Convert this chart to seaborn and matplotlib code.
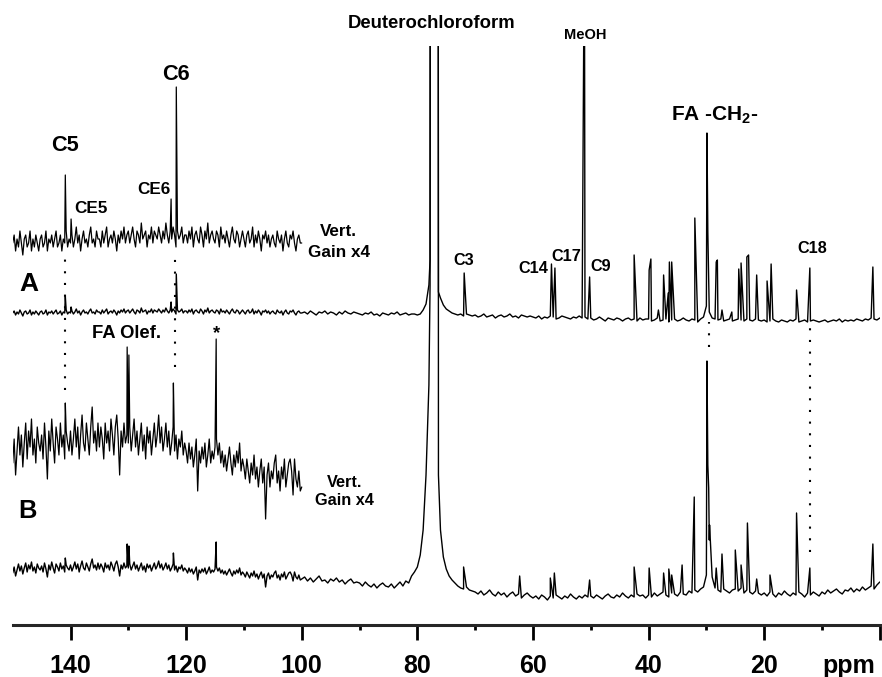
import numpy as np
import pandas as pd
import matplotlib
matplotlib.use("Agg")
import matplotlib.pyplot as plt
import seaborn as sns

# 13C spectra (values in plot pixels): 0.25 ppm steps for 150-100.25 ppm, 0.5 ppm steps for 100-0 ppm
ppm = np.concatenate([np.linspace(150, 100.25, 200), np.linspace(100, 0, 201)])

spec_a = [
    # 150 - 100.25 ppm
    7, 9, 5, 8, 6, 10, 7, 4, 8, 9, 6, 7, 10, 5, 8, 6, 9, 7, 5, 8,
    9, 6, 7, 10, 5, 8, 7, 9, 6, 8, 10, 6, 7, 9, 5, 8, 7, 10, 6, 8,
    7, 9, 6, 8, 11, 7, 9, 5, 8, 10, 7, 8, 6, 9, 11, 7, 8, 6, 10, 8,
    8, 6, 10, 7, 9, 11, 6, 8, 9, 7, 10, 8, 5, 9, 7, 10, 8, 11, 7, 9,
    10, 7, 9, 11, 8, 6, 10, 9, 7, 12, 8, 9, 10, 6, 9, 8, 11, 7, 10, 9,
    8, 11, 9, 7, 10, 8, 12, 9, 7, 10, 8, 11, 9, 6, 10, 8, 9, 11, 7, 9,
    9, 7, 10, 8, 11, 6, 9, 10, 8, 7, 11, 9, 6, 10, 8, 12, 7, 9, 10, 8,
    7, 10, 9, 6, 11, 8, 9, 7, 10, 8, 6, 9, 11, 8, 7, 10, 9, 6, 8, 10,
    8, 6, 9, 10, 7, 8, 11, 6, 9, 7, 10, 8, 5, 9, 8, 10, 7, 9, 6, 8,
    9, 7, 6, 10, 8, 7, 9, 5, 8, 10, 7, 6, 9, 8, 10, 7, 5, 8, 9, 7,
    # 100 - 0 ppm
    7, 8, 6, 9, 7, 5, 8, 7, 9, 6, 8, 7, 5, 8, 6, 9, 7, 6, 8, 7,
    6, 5, 7, 6, 8, 5, 6, 4, 7, 6, 5, 7, 6, 8, 5, 6, 7, 5, 6, 6,
    5, 6, 10, 16, 35, 900, 900, 900, 22, 15, 11, 9, 7, 6, 5, 6, 4, 6, 5, 4,
    5, 3, 4, 6, 3, 4, 5, 2, 4, 5, 3, 4, 6, 3, 4, 2, 5, 4, 3, 4,
    3, 2, 4, 1, 3, 2, 4, 3, 1, 2, 4, 3, 2, 1, 3, 2, 4, 2, 3, 1,
    2, 0, 1, 3, 1, -1, 2, 1, 0, 2, 1, -1, 1, 2, 0, 1, -1, 2, 0, 1,
    1, -1, 0, 2, -1, 0, 1, -2, 0, 1, -1, 0, 2, 0, -1, 1, 0, -2, 1, 3,
    14, 8, 2, 1, 0, 1, -1, 0, 1, -1, 0, 1, 0, -1, 1, 0, -1, 1, 0, -1,
    0, -2, -1, 1, -1, -2, 0, -1, -2, 0, -1, 1, -2, -1, 0, -2, -1, 0, -1, -2,
    -1, 0, -2, -1, 0, -1, 1, -2, 0, -1, 0, -1, 1, 0, -1, 1, 0, 2, 1, 0,
    2,
]

spec_b = [
    # 150 - 100.25 ppm
    12, 18, 9, 15, 21, 14, 19, 11, 17, 22, 13, 20, 16, 23, 14, 18, 12, 21, 17, 15,
    19, 13, 22, 16, 8, 20, 15, 23, 17, 12, 21, 18, 14, 22, 16, 19, 13, 20, 17, 15,
    20, 14, 18, 23, 16, 21, 13, 19, 24, 17, 15, 22, 18, 14, 21, 26, 17, 20, 15, 22,
    16, 21, 18, 13, 22, 17, 20, 15, 23, 19, 14, 21, 24, 18, 9, 20, 16, 22, 17, 19,
    17, 21, 15, 19, 23, 16, 20, 14, 18, 22, 15, 19, 13, 21, 17, 20, 14, 18, 22, 16,
    19, 24, 17, 21, 15, 18, 22, 16, 20, 14, 17, 21, 15, 19, 13, 18, 16, 20, 14, 17,
    15, 12, 17, 13, 16, 11, 14, 18, 5, 15, 12, 16, 13, 17, 11, 14, 18, 12, 15, 13,
    16, 18, 14, 17, 12, 15, 11, 14, 10, 13, 16, 12, 9, 14, 11, 15, 12, 17, 10, 13,
    11, 8, 13, 10, 7, 12, 9, 14, 8, 11, 6, 10, 13, 7, 11, -2, 9, 12, 6, 10,
    8, 12, 14, 7, 10, 5, 11, 8, 13, 6, 9, 12, 13, 10, 4, 13, 8, 6, 10, 5,
    # 100 - 0 ppm
    6, 8, 4, 7, 3, 6, 9, 4, 5, 2, 6, 4, 7, 3, 5, 1, 4, 6, 2, 3,
    2, -1, 3, 0, -2, 1, -3, 0, 2, -1, -2, 1, -3, 0, 3, -1, 4, 2, 9, 13,
    18, 30, 55, 110, 200, 2000, 2000, 2000, 55, 28, 16, 9, 5, 2, -1, -3, -4, -2, -5, -6,
    -7, -9, -6, -10, -8, -5, -9, -11, -7, -10, -8, -12, -9, -7, -11, -9, -13, -10, -8, -11,
    -13, -11, -14, -10, -12, -15, -11, -13, -10, -12, -14, -11, -13, -9, -12, -14, -11, -13, -10, -12,
    -11, -13, -10, -12, -14, -11, -9, -12, -13, -10, -12, -8, -11, -13, -10, -12, -9, -11, -10, -13,
    -10, -12, -8, -11, -9, -7, -10, -12, -8, -9, -11, -7, -9, -10, -6, -8, -5, -7, -4, -2,
    10, 45, 8, -3, -5, -7, -4, -6, -8, -5, -4, -6, -3, -8, -5, -7, -9, -6, -8, -10,
    -8, -11, -7, -9, -12, -8, -10, -6, -9, -11, -8, -10, -7, -9, -12, -8, -10, -7, -9, -11,
    -7, -9, -5, -8, -6, -4, -7, -9, -5, -6, -3, -7, -4, -6, -2, -5, -3, -1, -4, 0,
    3,
]

# sharp resonances: position and top
peaks_a_ppm = [140.9, 139.9, 122.6, 121.7, 71.9, 56.8, 56.2, 51.1, 50.2, 42.5, 39.9, 39.6,
               38.3, 37.4, 36.6, 36.4, 36.0, 32.0, 29.9, 29.75, 28.3, 28.1, 27.3, 25.6,
               24.4, 24.0, 23.0, 22.7, 21.3, 19.5, 18.8, 14.4, 12.1, 1.2]
peaks_a_top = [24, 13, 18, 46, 47, 56, 52, 400, 43, 65, 50, 61,
               10, 45, 27, 58, 58, 102, 187, 88, 58, 60, 10, 8,
               51, 57, 63, 65, 45, 39, 56, 30, 52, 53]

peaks_b_ppm = [140.9, 130.2, 129.9, 122.2, 114.8, 72.0, 62.3, 57.0, 56.3, 50.2, 42.5, 39.9,
               37.4, 36.5, 36.0, 34.2, 32.1, 29.9, 29.75, 29.6, 29.45, 28.3, 27.3, 25.0,
               24.0, 22.9, 21.3, 19.0, 14.4, 12.1, 1.2]
peaks_b_top = [27, 41, 39, 32, 43, 18, 9, 7, 12, 5, 18, 17,
               12, 16, 10, 20, 88, 224, 120, 97, 60, 17, 31, 35,
               20, 62, 6, 10, 72, 17, 41]

# deuterochloroform line edges
cdcl3_ppm = [77.8, 77.7, 76.45, 76.35]
cdcl3_a = [60, 900, 900, 28]
cdcl3_b = [300, 2000, 2000, 110]

major_ticks = [140, 120, 100, 80, 60, 40, 20, 0]
major_labels = ["140", "120", "100", "80", "60", "40", "20", ""]
minor_ticks = [130, 110, 90, 70, 50, 30, 10]


def spectrum(values, pk_ppm, pk_top, sv_ppm, sv_val):
    df = pd.concat([
        pd.DataFrame({"ppm": ppm, "val": values}),
        pd.DataFrame({"ppm": pk_ppm, "val": pk_top}),
        pd.DataFrame({"ppm": sv_ppm, "val": sv_val}),
    ], ignore_index=True)
    return df.sort_values("ppm", ascending=False, kind="stable").reset_index(drop=True)


sns.set_style("ticks")
plt.rcParams["font.family"] = ["Liberation Sans", "DejaVu Sans"]
plt.rcParams["mathtext.fontset"] = "custom"
plt.rcParams["mathtext.rm"] = "Liberation Sans:bold"
plt.rcParams["mathtext.it"] = "Liberation Sans:bold"
plt.rcParams["mathtext.bf"] = "Liberation Sans:bold"

fig = plt.figure(figsize=(8.82, 6.77), dpi=100)
ax = fig.add_axes([12.7 / 882, 52 / 677, 867.1 / 882, 579 / 677])

spec_A = spectrum(spec_a, peaks_a_ppm, peaks_a_top, cdcl3_ppm, cdcl3_a)
spec_B = spectrum(spec_b, peaks_b_ppm, peaks_b_top, cdcl3_ppm, cdcl3_b)

# main traces
for df, off in [(spec_A, 305), (spec_B, 40)]:
    sns.lineplot(x=df["ppm"], y=df["val"] + off, sort=False, estimator=None,
                 color="black", lw=1.0, ax=ax)

# vertical gain x4 expansions of 150-100 ppm
for df, off in [(spec_A, 354), (spec_B, 114)]:
    sub = df[df["ppm"] >= 100]
    sns.lineplot(x=sub["ppm"], y=4 * sub["val"] + off, sort=False, estimator=None,
                 color="black", lw=0.9, ax=ax)

# dotted guides
ax.vlines([140.9, 121.9, 29.6, 12.1], [235, 258, 278, 73], [370, 367, 303, 297],
          colors="black", linestyles=(0, (1, 4.6)), lw=1.5)

ax.set_xlim(150, 0)
ax.set_ylim(0, 579)
ax.set_yticks([])
ax.set_xlabel("")
ax.set_ylabel("")
sns.despine(ax=ax, left=True)
ax.spines["bottom"].set_linewidth(2.2)
ax.set_xticks(major_ticks, major_labels)
ax.set_xticks(minor_ticks, minor=True)
ax.tick_params(axis="x", which="major", length=10.8, width=2, pad=10, labelsize=18,
               color="black", labelcolor="black")
ax.tick_params(axis="x", which="minor", length=3.6, width=2, color="black")
for lab in ax.get_xticklabels():
    lab.set_fontweight("bold")


def label(x, y, s, size):
    ax.text(x, y, s, ha="center", va="baseline", fontsize=size, fontweight="bold",
            color="black", clip_on=False)


label(5.4, -48, "ppm", 18)
label(77.55, 596.6, "Deuterochloroform", 13.3)
label(50.9, 585.7, "MeOH", 10.5)
label(140.9, 474.2, "C5", 15.7)
label(121.7, 545.5, "C6", 15.7)
label(136.5, 412.2, "CE5", 12.3)
label(125.6, 430.5, "CE6", 12.3)
label(93.6, 389, "Vert.", 12.3)
label(93.6, 368.3, "Gain x4", 12.3)
label(147.2, 334.3, "A", 19)
label(71.9, 360, "C3", 11.7)
label(59.9, 352.3, "C14", 11.7)
label(54.3, 364, "C17", 11.7)
label(48.2, 354, "C9", 11.7)
label(28.5, 504, r"FA -CH$_{2}$-", 15)
label(11.7, 371.7, "C18", 11.7)
label(130.4, 286.7, "FA Olef.", 13.3)
label(114.7, 286.7, "*", 13.3)
label(147.5, 106.7, "B", 18.3)
label(92.6, 138.3, "Vert.", 11.7)
label(92.6, 120, "Gain x4", 11.7)

fig.savefig("out.png", dpi=100)
